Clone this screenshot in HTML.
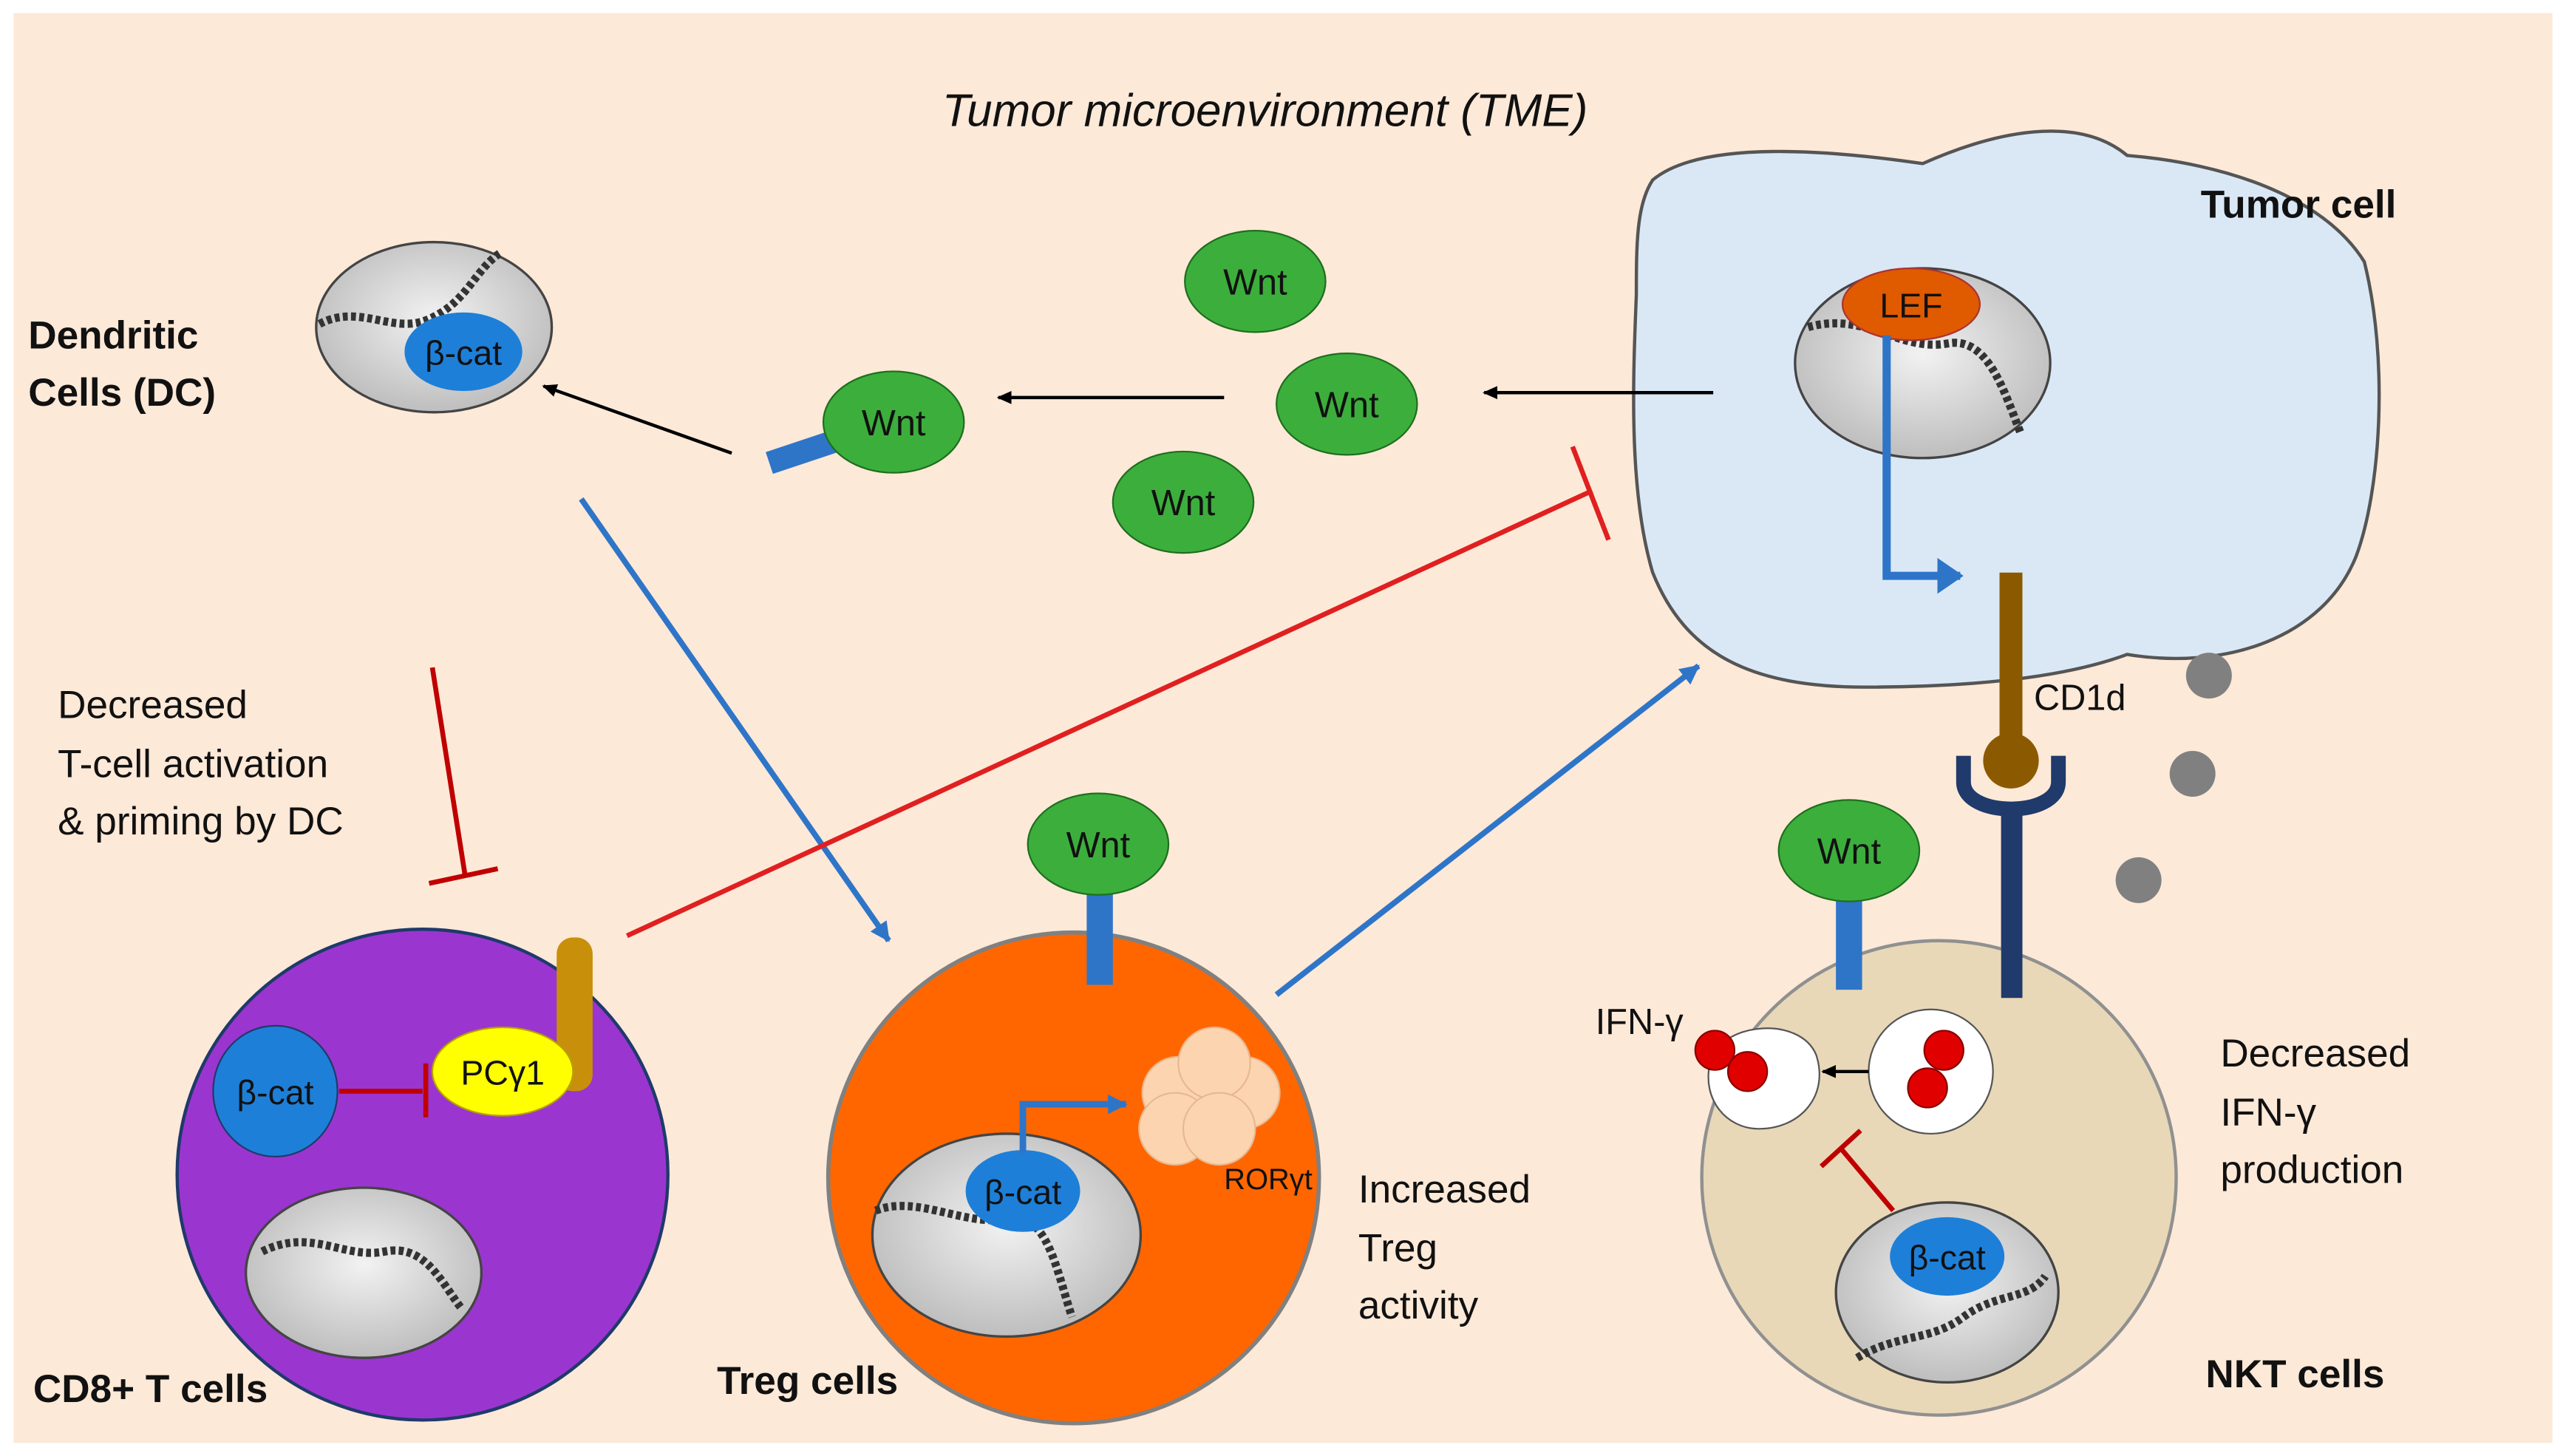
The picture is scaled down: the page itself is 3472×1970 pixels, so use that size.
<!DOCTYPE html>
<html><head><meta charset="utf-8"><style>
html,body{margin:0;padding:0;background:#fff}
svg{display:block}
text{font-family:"Liberation Sans",sans-serif;fill:#111}
.b{font-weight:bold}
</style></head><body>
<svg width="3472" height="1970" viewBox="0 0 1568 890" xmlns="http://www.w3.org/2000/svg">
<defs>
<radialGradient id="nuc" cx="50%" cy="45%" r="60%"><stop offset="0" stop-color="#f2f2f2"/><stop offset="1" stop-color="#b9b9b9"/></radialGradient>
<marker id="ak" markerWidth="10" markerHeight="10" refX="8" refY="5" orient="auto" markerUnits="userSpaceOnUse"><path d="M0,1 L9,5 L0,9 z" fill="#000"/></marker>
<marker id="ab" markerWidth="14" markerHeight="14" refX="11" refY="7" orient="auto" markerUnits="userSpaceOnUse"><path d="M0,1 L12,7 L0,13 z" fill="#2e75c8"/></marker>
<marker id="ab2" markerWidth="20" markerHeight="24" refX="14" refY="12" orient="auto" markerUnits="userSpaceOnUse"><path d="M0,1 L16,12 L0,23 z" fill="#2e75c8"/></marker>
</defs>
<rect x="0" y="0" width="1568" height="890" fill="#fff"/>
<rect x="8" y="8" width="1552" height="874" fill="#fde9d8"/>
<text x="773" y="77" font-size="28" font-style="italic" text-anchor="middle">Tumor microenvironment (TME)</text>

<!-- Tumor cell -->
<path d="M1010,110 C1040,85 1120,92 1175,100 C1220,80 1270,70 1300,95 C1360,100 1420,120 1445,160 C1460,220 1455,300 1440,340 C1420,390 1360,410 1300,400 C1260,415 1200,420 1140,420 C1070,420 1030,400 1010,350 C995,300 998,230 1000,180 C1000,150 1000,125 1010,110 Z" fill="#dae8f6" stroke="#555" stroke-width="2"/>
<text x="1345" y="133" font-size="24" class="b">Tumor cell</text>
<ellipse cx="1175" cy="222" rx="78" ry="58" fill="url(#nuc)" stroke="#444" stroke-width="1.5"/>
<path d="M1105,200 C1140,190 1160,215 1190,210 C1215,205 1225,240 1235,265" fill="none" stroke="#333" stroke-width="5" stroke-dasharray="3,2"/>
<ellipse cx="1168" cy="186" rx="42" ry="22" fill="#e05a00" stroke="#a33" stroke-width="1"/>
<text x="1168" y="194" font-size="21" text-anchor="middle">LEF</text>
<polyline points="1153,205 1153,352 1198,352" fill="none" stroke="#2e75c8" stroke-width="5" marker-end="url(#ab2)"/>
<!-- CD1d -->
<rect x="1222" y="350" width="14" height="105" fill="#8b5a00"/>
<circle cx="1229" cy="465" r="17" fill="#8b5a00"/>
<text x="1243" y="434" font-size="22">CD1d</text>
<path d="M1200,462 L1200,478 C1200,500 1258,500 1258,478 L1258,462" fill="none" stroke="#1f3a6b" stroke-width="9"/>
<rect x="1223" y="492" width="13" height="118" fill="#1f3a6b"/>
<circle cx="1350" cy="413" r="14" fill="#808080"/>
<circle cx="1340" cy="473" r="14" fill="#808080"/>
<circle cx="1307" cy="538" r="14" fill="#808080"/>

<!-- Wnts -->
<g font-size="22" text-anchor="middle">
<ellipse cx="767" cy="172" rx="43" ry="31" fill="#3cae3c" stroke="#1e6e1e"/><text x="767" y="180">Wnt</text>
<ellipse cx="823" cy="247" rx="43" ry="31" fill="#3cae3c" stroke="#1e6e1e"/><text x="823" y="255">Wnt</text>
<ellipse cx="723" cy="307" rx="43" ry="31" fill="#3cae3c" stroke="#1e6e1e"/><text x="723" y="315">Wnt</text>
<line x1="470" y1="283" x2="515" y2="268" stroke="#2e75c8" stroke-width="14"/>
<ellipse cx="546" cy="258" rx="43" ry="31" fill="#3cae3c" stroke="#1e6e1e"/><text x="546" y="266">Wnt</text>
</g>
<line x1="1047" y1="240" x2="907" y2="240" stroke="#000" stroke-width="2" marker-end="url(#ak)"/>
<line x1="748" y1="243" x2="610" y2="243" stroke="#000" stroke-width="2" marker-end="url(#ak)"/>
<line x1="447" y1="277" x2="332" y2="236" stroke="#000" stroke-width="2" marker-end="url(#ak)"/>

<!-- DC -->
<ellipse cx="265" cy="200" rx="72" ry="52" fill="url(#nuc)" stroke="#444" stroke-width="1.5"/>
<path d="M195,198 C220,185 240,205 262,195 C285,185 290,165 305,155" fill="none" stroke="#333" stroke-width="5" stroke-dasharray="3,2"/>
<ellipse cx="283" cy="215" rx="36" ry="24" fill="#1e7fd8"/>
<text x="283" y="223" font-size="21" text-anchor="middle">β-cat</text>
<text x="17" y="213" font-size="24" class="b">Dendritic</text>
<text x="17" y="248" font-size="24" class="b">Cells (DC)</text>

<!-- blue long arrows -->
<line x1="355" y1="305" x2="543" y2="575" stroke="#2e75c8" stroke-width="3.5" marker-end="url(#ab)"/>
<line x1="780" y1="608" x2="1038" y2="407" stroke="#2e75c8" stroke-width="3.5" marker-end="url(#ab)"/>
<!-- red inhibitions -->
<line x1="383" y1="572" x2="973" y2="300" stroke="#e02020" stroke-width="3"/>
<line x1="961" y1="273" x2="983" y2="330" stroke="#e02020" stroke-width="3"/>
<line x1="264" y1="408" x2="284" y2="535" stroke="#c00000" stroke-width="3"/>
<line x1="262" y1="540" x2="304" y2="531" stroke="#c00000" stroke-width="3"/>
<g font-size="24">
<text x="35" y="439">Decreased</text>
<text x="35" y="475">T-cell activation</text>
<text x="35" y="510">&amp; priming by DC</text>
</g>

<!-- CD8 -->
<circle cx="258" cy="718" r="150" fill="#9b35d0" stroke="#1f3a6b" stroke-width="2"/>
<rect x="340" y="573" width="22" height="94" rx="10" fill="#c8900a"/>
<ellipse cx="307" cy="655" rx="43" ry="27" fill="#ffff00" stroke="#b8a000"/>
<text x="307" y="663" font-size="21" text-anchor="middle">PCγ1</text>
<ellipse cx="168" cy="667" rx="38" ry="40" fill="#1e7fd8" stroke="#1f3a6b"/>
<text x="168" y="675" font-size="21" text-anchor="middle">β-cat</text>
<line x1="207" y1="667" x2="258" y2="667" stroke="#c00000" stroke-width="3"/>
<line x1="260" y1="650" x2="260" y2="683" stroke="#c00000" stroke-width="3"/>
<ellipse cx="222" cy="778" rx="72" ry="52" fill="url(#nuc)" stroke="#444" stroke-width="1.5"/>
<path d="M160,765 C190,750 210,770 235,765 C260,760 270,785 282,800" fill="none" stroke="#333" stroke-width="5" stroke-dasharray="3,2"/>
<text x="20" y="857" font-size="24" class="b">CD8+  T cells</text>

<!-- Treg -->
<circle cx="656" cy="720" r="150" fill="#ff6600" stroke="#808080" stroke-width="2.5"/>
<rect x="664" y="540" width="16" height="62" fill="#2e75c8"/>
<ellipse cx="671" cy="516" rx="43" ry="31" fill="#3cae3c" stroke="#1e6e1e"/>
<text x="671" y="524" font-size="22" text-anchor="middle">Wnt</text>
<ellipse cx="615" cy="755" rx="82" ry="62" fill="url(#nuc)" stroke="#444" stroke-width="1.5"/>
<path d="M535,740 C560,730 590,750 615,745 C640,740 645,775 655,805" fill="none" stroke="#333" stroke-width="5" stroke-dasharray="3,2"/>
<ellipse cx="625" cy="728" rx="35" ry="25" fill="#1e7fd8"/>
<text x="625" y="736" font-size="21" text-anchor="middle">β-cat</text>
<polyline points="625,705 625,675 688,675" fill="none" stroke="#2e75c8" stroke-width="4" marker-end="url(#ab)"/>
<g fill="#fcd5b0" stroke="#e8b890"><circle cx="720" cy="668" r="22"/><circle cx="760" cy="668" r="22"/><circle cx="742" cy="650" r="22"/><circle cx="718" cy="690" r="22"/><circle cx="745" cy="690" r="22"/></g>
<text x="748" y="727" font-size="18">RORγt</text>
<text x="438" y="852" font-size="24" class="b">Treg cells</text>
<g font-size="24"><text x="830" y="735">Increased</text><text x="830" y="771">Treg</text><text x="830" y="806">activity</text></g>

<!-- NKT -->
<circle cx="1185" cy="720" r="145" fill="#e8d8b8" stroke="#909090" stroke-width="2"/>
<rect x="1122" y="545" width="16" height="60" fill="#2e75c8"/>
<ellipse cx="1130" cy="520" rx="43" ry="31" fill="#3cae3c" stroke="#1e6e1e"/>
<text x="1130" y="528" font-size="22" text-anchor="middle">Wnt</text>
<rect x="1223" y="492" width="13" height="118" fill="#1f3a6b"/>
<path d="M1045,650 C1050,625 1100,620 1110,645 C1118,670 1100,690 1075,690 C1055,690 1040,672 1045,650Z" fill="#fff" stroke="#555"/>
<circle cx="1180" cy="655" r="38" fill="#fff" stroke="#555"/>
<g fill="#e00000" stroke="#800"><circle cx="1048" cy="642" r="12"/><circle cx="1068" cy="655" r="12"/><circle cx="1188" cy="642" r="12"/><circle cx="1178" cy="665" r="12"/></g>
<line x1="1142" y1="655" x2="1114" y2="655" stroke="#000" stroke-width="2" marker-end="url(#ak)"/>
<line x1="1157" y1="740" x2="1125" y2="702" stroke="#c00000" stroke-width="3"/>
<line x1="1113" y1="713" x2="1137" y2="691" stroke="#c00000" stroke-width="3"/>
<text x="975" y="632" font-size="22">IFN-γ</text>
<ellipse cx="1190" cy="790" rx="68" ry="55" fill="url(#nuc)" stroke="#444" stroke-width="1.5"/>
<path d="M1135,830 C1160,815 1180,820 1200,805 C1220,790 1240,795 1250,780" fill="none" stroke="#333" stroke-width="5" stroke-dasharray="3,2"/>
<ellipse cx="1190" cy="768" rx="35" ry="24" fill="#1e7fd8"/>
<text x="1190" y="776" font-size="21" text-anchor="middle">β-cat</text>
<g font-size="24"><text x="1357" y="652">Decreased</text><text x="1357" y="688">IFN-γ</text><text x="1357" y="723">production</text></g>
<text x="1348" y="848" font-size="24" class="b">NKT cells</text>
</svg>
</body></html>
